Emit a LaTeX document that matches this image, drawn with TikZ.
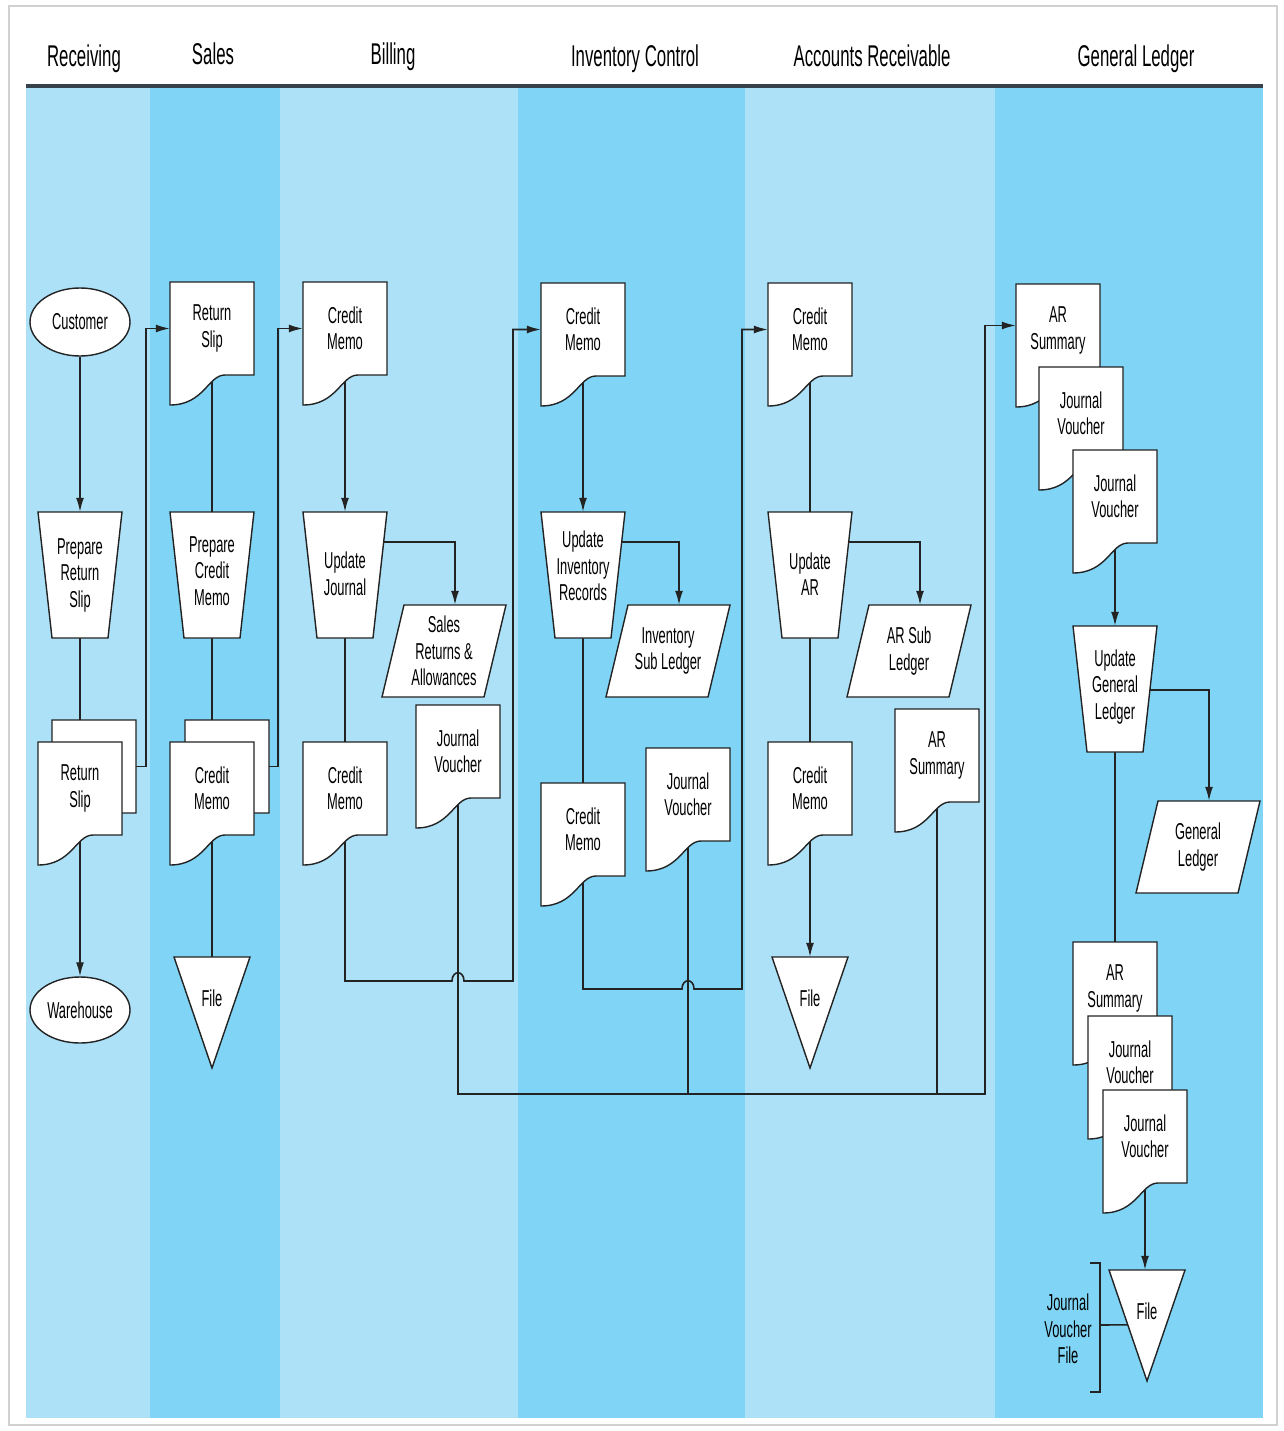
\documentclass[tikz,border=0pt]{standalone}
\usepackage{fontspec}
\setmainfont[FakeStretch=0.56]{Liberation Sans}
\usetikzlibrary{shapes.geometric,arrows.meta,calc}
\definecolor{laneL}{RGB}{173,225,247}
\definecolor{laneD}{RGB}{128,213,246}
\definecolor{ink}{RGB}{35,35,35}
\definecolor{hdrline}{RGB}{55,65,75}
\pgfdeclarelayer{lanes}
\pgfdeclarelayer{edges}
\pgfsetlayers{lanes,edges,main}
\tikzset{
  shapeline/.style={draw=ink, line width=1.4pt, fill=white, line join=miter},
  txt/.style={inner sep=0pt, align=center, font=\fontsize{23}{26.5}\selectfont, text=black},
  ell/.style={ellipse, draw=ink, line width=1.4pt, fill=white, minimum width=100pt, minimum height=68pt, inner sep=0pt, font=\fontsize{23}{26.5}\selectfont},
  conn/.style={draw=ink, line width=1.6pt},
  arr/.style={conn, -{Latex[length=14pt,width=8pt]}},
  hdr/.style={font=\fontsize{30}{34}\selectfont, inner sep=0pt, anchor=base},
}
\newcommand\docnode[4]{%
  \path[shapeline] (#2,#3) -- ++(84,0) -- ++(0,93) -- ++(-29,0) .. controls +(-17,0) and +(34,0) .. ++(-55,30) -- cycle;
  \node[txt, minimum width=84pt, minimum height=93pt] (#1) at (#2+42,#3+46.5) {#4};}
\newcommand\trapnode[5]{%
  \path[shapeline] (#2-42,#3) -- (#2+42,#3) -- (#2+28,#3+126) -- (#2-28,#3+126) -- cycle;
  \node[txt, minimum width=84pt, minimum height=126pt] (#1) at (#2,#3+63) {};
  \node[txt] (#1-t) at (#2,#3+#5) {#4};}
\newcommand\paranode[4]{%
  \path[shapeline] (#2-40,#3-46) -- (#2+62,#3-46) -- (#2+40,#3+46) -- (#2-62,#3+46) -- cycle;
  \node[txt, minimum width=102pt, minimum height=92pt] (#1) at (#2,#3) {#4};}
\newcommand\filenode[3]{%
  \path[shapeline] (#2-38,#3) -- (#2+38,#3) -- (#2,#3+111) -- cycle;
  \node[txt, minimum width=76pt, minimum height=82pt] (#1) at (#2,#3+41) {File};}
\begin{document}
\begin{tikzpicture}[x=1pt,y=-1pt]
\useasboundingbox (0,0) rectangle (1283,1431);
\begin{pgfonlayer}{lanes}
  \fill[white] (0,0) rectangle (1283,1431);
  \draw[black!18, line width=2pt] (9,6) rectangle (1277,1425);
  \fill[laneL] (26,87) rectangle (150,1418);
  \fill[laneD] (150,87) rectangle (280,1418);
  \fill[laneL] (280,87) rectangle (518,1418);
  \fill[laneD] (518,87) rectangle (745,1418);
  \fill[laneL] (745,87) rectangle (995,1418);
  \fill[laneD] (995,87) rectangle (1263,1418);
  \draw[hdrline, line width=3.5pt] (26,86) -- (1263,86);
\end{pgfonlayer}

% headers
\node[hdr] (h1) at (84,67) {Receiving};
\node[hdr] (h2) at (213,65) {Sales};
\node[hdr] (h3) at (393,65) {Billing};
\node[hdr] (h4) at (635,67) {Inventory Control};
\node[hdr] (h5) at (872,67) {Accounts Receivable};
\node[hdr] (h6) at (1136,67) {General Ledger};

% Receiving
\node[ell] (cust) at (80,322) {Customer};
\trapnode{prs}{80}{512}{Prepare\\Return\\Slip}{63}
\docnode{rsb}{52}{720}{}
\docnode{rsf}{38}{742}{Return\\Slip}
\node[ell, minimum height=66pt] (wh) at (80,1010) {Warehouse};

% Sales
\docnode{srs}{170}{282}{Return\\Slip}
\trapnode{pcm}{212}{512}{Prepare\\Credit\\Memo}{59}
\docnode{scmb}{185}{720}{}
\docnode{scmf}{170}{742}{Credit\\Memo}
\filenode{sfile}{212}{957}

% Billing
\docnode{bcm1}{303}{282}{Credit\\Memo}
\trapnode{uj}{345}{512}{Update\\Journal}{62}
\paranode{sra}{444}{651}{Sales\\Returns \&\\Allowances}
\docnode{bcm2}{303}{742}{Credit\\Memo}
\docnode{bjv}{416}{705}{Journal\\Voucher}

% Inventory Control
\docnode{icm1}{541}{283}{Credit\\Memo}
\trapnode{uir}{583}{512}{Update\\Inventory\\Records}{54}
\paranode{isl}{668}{651}{Inventory\\Sub Ledger}
\docnode{icm2}{541}{783}{Credit\\Memo}
\docnode{ijv}{646}{748}{Journal\\Voucher}

% Accounts Receivable
\docnode{acm1}{768}{283}{Credit\\Memo}
\trapnode{uar}{810}{512}{Update\\AR}{62}
\paranode{asl}{909}{651}{AR Sub\\Ledger}
\docnode{acm2}{768}{742}{Credit\\Memo}
\filenode{afile}{810}{957}
\docnode{ars}{895}{709}{AR\\Summary}

% General Ledger
\docnode{gars1}{1016}{284}{AR\\Summary}
\docnode{gjv1}{1039}{367}{Journal\\Voucher}
\docnode{gjv2}{1073}{450}{Journal\\Voucher}
\trapnode{ugl}{1115}{626}{Update\\General\\Ledger}{61}
\paranode{gl}{1198}{847}{General\\Ledger}
\docnode{gars2}{1073}{942}{AR\\Summary}
\docnode{gjv3}{1088}{1016}{Journal\\Voucher}
\docnode{gjv4}{1103}{1090}{Journal\\Voucher}
\filenode{gfile}{1147}{1270}
\node[txt] (jvfl) at (1068,1329) {Journal\\Voucher\\File};
\draw[conn] (1090,1263) -- (1100,1263) -- (1100,1392) -- (1090,1392);
\coordinate (brk) at (1100,1325);

\coordinate (lvB) at (0,981);
\coordinate (colB) at (513,981);
\coordinate (lvI) at (0,989);
\coordinate (colI) at (742,989);
\coordinate (busL) at (0,1094);
\coordinate (busR) at (985,1094);

\begin{pgfonlayer}{edges}
  % Receiving
  \draw[arr] (cust.south) -- (prs.north);
  \draw[conn] (prs.south) -- (prs.south |- rsb.north);
  \draw[arr] (rsf.south) -- (wh.north);
  \draw[arr] (rsb.east) -- ++(10,0) |- (srs.west);
  % Sales
  \draw[conn] (srs.south) -- (pcm.north);
  \draw[conn] (pcm.south) -- (pcm.south |- scmb.north);
  \draw[conn] (scmf.south) -- (sfile.north);
  \draw[arr] (scmb.east) -- ++(9,0) |- (bcm1.west);
  % Billing
  \draw[arr] (bcm1.south) -- (uj.north);
  \draw[arr] ($(uj.north)+(0,30)$) -| ($(sra.north)+(11,0)$);
  \draw[conn] (uj.south) -- (bcm2.north);
  \draw[arr] (bcm2.south) |- ($(bjv.south |- lvB)+(-6,0)$) .. controls +(0,-11) and +(0,-11) .. ($(bjv.south |- lvB)+(6,0)$) -- (colB) |- (icm1.west);
  \draw[arr] (bjv.south) |- (busR) |- ($(gars1.west)+(0,-5)$);
  % Inventory Control
  \draw[arr] (icm1.south) -- (uir.north);
  \draw[arr] ($(uir.north)+(0,30)$) -| ($(isl.north)+(11,0)$);
  \draw[conn] (uir.south) -- (icm2.north);
  \draw[arr] (icm2.south) |- ($(ijv.south |- lvI)+(-6,0)$) .. controls +(0,-11) and +(0,-11) .. ($(ijv.south |- lvI)+(6,0)$) -- (colI) |- (acm1.west);
  \draw[conn] (ijv.south) -- (ijv.south |- busL);
  % Accounts Receivable
  \draw[conn] (acm1.south) -- (uar.north);
  \draw[arr] ($(uar.north)+(0,30)$) -| ($(asl.north)+(11,0)$);
  \draw[conn] (uar.south) -- (acm2.north);
  \draw[arr] (acm2.south) -- (afile.north);
  \draw[conn] (ars.south) -- (ars.south |- busL);
  % General Ledger
  \draw[arr] (gjv2.south) -- (ugl.north);
  \draw[arr] ($(ugl.north)+(0,64)$) -| ($(gl.north)+(11,0)$);
  \draw[conn] (ugl.south) -- (gars2.north);
  \draw[arr] (gjv4.south) -- (gjv4.south |- gfile.north);
  \draw[conn] (brk) -- ($(gfile.north)+(-19,55)$);
\end{pgfonlayer}
\end{tikzpicture}
\end{document}
